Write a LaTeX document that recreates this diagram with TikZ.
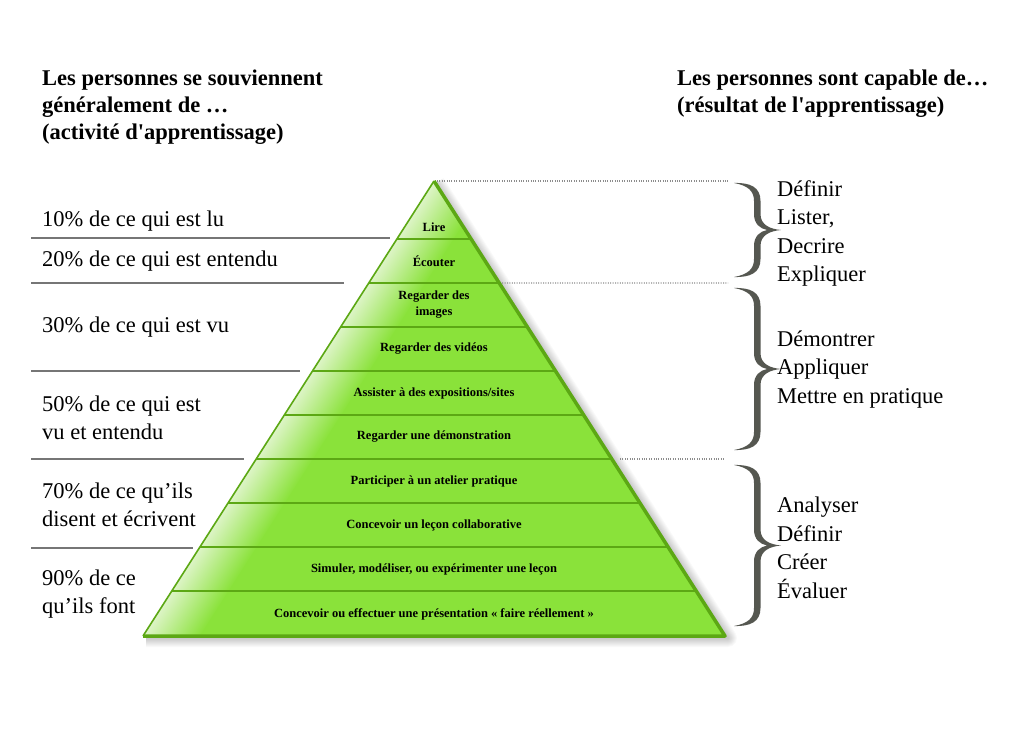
\documentclass[tikz,border=0pt]{standalone}
\usepackage{fontspec}
\setmainfont{Liberation Serif}[Ligatures=TeXOff]
\usetikzlibrary{calc}
\definecolor{pyrgreen}{RGB}{138,226,58}
\definecolor{pyrline}{RGB}{92,168,20}
\definecolor{pyrpale}{RGB}{228,246,210}
\definecolor{rulegray}{RGB}{118,118,118}
\definecolor{dotgray}{RGB}{140,140,140}
\definecolor{bracegray}{RGB}{85,87,80}

\tikzset{
  layer/.style={font=\bfseries\fontsize{12.5}{16}\selectfont, align=center, inner sep=0},
  pct/.style={font=\fontsize{22.5}{27.5}\selectfont, align=left, inner sep=0, anchor=base west},
  head/.style={font=\bfseries\fontsize{22.5}{27}\selectfont, align=left, inner sep=0, anchor=base west},
  verbs/.style={font=\fontsize{22.5}{28.5}\selectfont, align=left, inner sep=0, anchor=base west},
  rule/.style={rulegray, line width=1.6},
  dots/.style={dotgray, line width=1.3, dash pattern=on 1pt off 1.4pt}
}

\begin{document}
\begin{tikzpicture}[x=1pt, y=1pt]
\useasboundingbox (0,0) rectangle (1024,729);
\fill[white] (0,0) rectangle (1024,729);

\coordinate (A) at (434,548);
\coordinate (L) at (143,93);
\coordinate (R) at (725,93);

% soft shadow
\foreach \w in {2,4,...,18}
  \draw[black, opacity=0.022, line width=\w, line join=round] ($(A)+(2,-2)$) -- ($(R)+(3,-2)$) -- ($(L)+(3,-2)$);

\begin{scope}
\clip (A) -- (R) -- (L) -- cycle;
\fill[pyrgreen] (A) -- (R) -- (L) -- cycle;
\begin{scope}[transform canvas={shift={(L)}, rotate=57.4}]
\shade[top color=pyrpale, bottom color=pyrgreen] (-20,4) rectangle (600,-48);
\end{scope}
\end{scope}

\foreach \k in {0,...,8}
  \draw[pyrline, line width=1.6] ($(A)!{(58+44*\k)/455}!(L)$) -- ($(A)!{(58+44*\k)/455}!(R)$);
\draw[pyrline, line width=1.6] (L) -- (A);
\draw[pyrline, line width=3.5, line join=round] (A) -- (R) -- (L);

\node[layer] (lire) at (434,502) {Lire};
\node[layer] (ecouter) at (434,468) {Écouter};
\node[layer] (images) at (434,424) {Regarder des\\images};
\node[layer] (videos) at (434,380) {Regarder des vidéos};
\node[layer] (expos) at (434,336) {Assister à des expositions/sites};
\node[layer] (demo) at (434,292) {Regarder une démonstration};
\node[layer] (atelier) at (434,248) {Participer à un atelier pratique};
\node[layer] (lecon) at (434,204) {Concevoir un leçon collaborative};
\node[layer] (simuler) at (434,160) {Simuler, modéliser, ou expérimenter une leçon};
\node[layer] (faire) at (434,115) {Concevoir ou effectuer une présentation « faire réellement »};

\node[head] (souvenir) at (42,589) {Les personnes se souviennent\\généralement de …\\(activité d'apprentissage)};
\node[head] (capable) at (677,616) {Les personnes sont capable de…\\(résultat de l'apprentissage)};

\node[pct] (p10) at (42,502) {10\% de ce qui est lu};
\node[pct] (p20) at (42,462) {20\% de ce qui est entendu};
\node[pct] (p30) at (42,396) {30\% de ce qui est vu};
\node[pct] (p50) at (42,290) {50\% de ce qui est\\vu et entendu};
\node[pct] (p70) at (42,203) {70\% de ce qu’ils\\disent et écrivent};
\node[pct] (p90) at (42,116) {90\% de ce\\qu’ils font};

\draw[rule] (31,491) -- (390,491);
\draw[rule] (31,446) -- (344,446);
\draw[rule] (31,358) -- (300,358);
\draw[rule] (31,270) -- (244,270);
\draw[rule] (31,181) -- (193,181);

\coordinate (d1) at (728,548);
\coordinate (d2) at (728,446);
\coordinate (d3a) at (620,270);
\coordinate (d3b) at (725,270);
\draw[dots] ($(A)+(3,0)$) -- (d1);
\draw[dots] ($(A)!{102/455}!(R)+(3,0)$) -- (d2);
\draw[dots] (d3a) -- (d3b);

% curly braces
\foreach \yt/\yb in {546/452, 441/279, 264/103} {
  \pgfmathsetmacro{\bh}{(\yt-\yb)/2}
  \pgfmathsetmacro{\bm}{(\yt+\yb)/2}
  \fill[bracegray, shift={(734,\bm)}] (0,\bh)
    .. controls (16,\bh+0.5) and (26.5,\bh-4) .. (26.5,\bh-18) -- (26.5,16)
    .. controls (26.5,5) and (36,1) .. (47,0)
    .. controls (36,-1) and (26.5,-5) .. (26.5,-16) -- (26.5,-\bh+18)
    .. controls (26.5,-\bh+4) and (16,-\bh-0.5) .. (0,-\bh)
    .. controls (14,-\bh+2.5) and (20,-\bh+8) .. (20,-\bh+18) -- (20,-16)
    .. controls (20,-6) and (26,-1.5) .. (33,0)
    .. controls (26,1.5) and (20,6) .. (20,16) -- (20,\bh-18)
    .. controls (20,\bh-8) and (14,\bh-2.5) .. (0,\bh) -- cycle;
}

\node[verbs] (savoir) at (777,447) {Définir\\Lister,\\Decrire\\Expliquer};
\node[verbs] (pratique) at (777,326) {Démontrer\\Appliquer\\Mettre en pratique};
\node[verbs] (creer) at (777,131) {Analyser\\Définir\\Créer\\Évaluer};
\end{tikzpicture}
\end{document}
